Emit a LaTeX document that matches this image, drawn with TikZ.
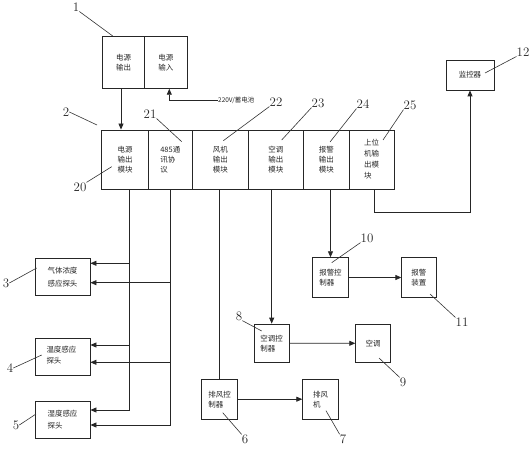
\documentclass[tikz,border=0pt]{standalone}
\usepackage{fontspec}
\newfontfamily\cjk{Noto Sans CJK SC}
\usetikzlibrary{arrows.meta}
\begin{document}
\begin{tikzpicture}[x=1bp,y=-1bp,
  box/.style={draw=black!85, line width=0.8bp, inner sep=0pt, align=left, text=black!85,
    font=\cjk\fontsize{7.5}{10}\selectfont},
  sbox/.style={box, font=\cjk\fontsize{7.5}{13}\selectfont},
  arr/.style={draw=black!85, line width=0.8bp, -{Triangle[length=6bp,width=5bp]}},
  ln/.style={draw=black!85, line width=0.8bp},
  lead/.style={draw=black!80, line width=0.6bp},
  num/.style={font=\fontsize{13}{13}\selectfont, inner sep=0pt, text=black!85}]
\useasboundingbox (0,0) rectangle (530,450);
% top power box
\node[box, minimum width=41.6bp, minimum height=52.3bp] (topL) at (123.5,62.2) {电源\\输出};
\node[box, minimum width=43bp, minimum height=52.3bp] (topR) at (165.8,62.2) {电源\\输入};
\node[anchor=west, inner sep=0pt, text=black!85, font=\cjk\fontsize{6.5}{8}\selectfont] (p220) at (218,100) {220V/蓄电池};
% module row
\node[box, minimum width=46.6bp, minimum height=59bp] (m1) at (125,159.5) {电源\\输出\\模块};
\node[box, minimum width=44bp, minimum height=59bp] (m2) at (170.3,159.5) {485通\\讯协\\议};
\node[box, minimum width=56bp, minimum height=59bp] (m3) at (220.3,159.5) {风机\\输出\\模块};
\node[box, minimum width=55bp, minimum height=59bp] (m4) at (275.8,159.5) {空调\\输出\\模块};
\node[box, minimum width=46bp, minimum height=59bp] (m5) at (326.3,159.5) {报警\\输出\\模块};
\node[box, minimum width=44.7bp, minimum height=59bp, font=\cjk\fontsize{7.5}{11}\selectfont] (m6) at (371.7,159.5) {上位\\机输\\出模\\块};
% monitor
\node[box, minimum width=48bp, minimum height=30bp] (mon) at (470,75) {监控器};
% sensors
\node[sbox, minimum width=55bp, minimum height=36.7bp] (s3) at (62.5,276.7) {气体浓度\\感应探头};
\node[sbox, minimum width=55bp, minimum height=36.7bp, font=\cjk\fontsize{7.5}{11}\selectfont] (s4) at (62.5,356.7) {\raisebox{3bp}{\parbox[b]{32bp}{温度感应\\探头}}};
\node[sbox, minimum width=55bp, minimum height=36.6bp, font=\cjk\fontsize{7.5}{12}\selectfont] (s5) at (62.5,420) {湿度感应\\探头};
% controllers
\node[box, minimum width=35.6bp, minimum height=39.6bp] (bc) at (330.5,277.5) {报警控\\制器};
\node[box, minimum width=34.3bp, minimum height=39.6bp] (bz) at (418.9,277.5) {报警\\装置};
\node[box, minimum width=35.3bp, minimum height=38.3bp] (kc) at (271.7,343.2) {空调控\\制器};
\node[box, minimum width=35bp, minimum height=38bp] (kt) at (373.2,343.3) {空调};
\node[box, minimum width=36bp, minimum height=39.7bp] (pc) at (219.7,399.2) {排风控\\制器};
\node[box, minimum width=35.6bp, minimum height=39.7bp] (pj) at (320.5,399.2) {排风\\机};
% connectors
\draw[arr] ([xshift=-2.5bp]topL.south) -- ([xshift=-2.5bp]topL.south |- m1.north);
\draw[arr] (p220.west) -| ([xshift=3.5bp]topR.south);
\coordinate (t1) at ([xshift=4bp]m1.south);
\coordinate (t2) at (m2.south);
\coordinate (a3) at ([yshift=13.4bp]s3.east);
\coordinate (b3) at ([yshift=-6bp]s3.east);
\coordinate (a4) at ([yshift=11.7bp]s4.east);
\coordinate (b4) at ([yshift=-5.6bp]s4.east);
\coordinate (a5) at ([yshift=10bp]s5.east);
\coordinate (b5) at ([yshift=-5bp]s5.east);
\draw[arr] (t1) |- (a5);
\draw[arr] (t1 |- a3) -- (a3);
\draw[arr] (t1 |- a4) -- (a4);
\draw[arr] (t2) |- (b5);
\draw[arr] (t2 |- b3) -- (b3);
\draw[arr] (t2 |- b4) -- (b4);
\draw[ln] (pc.north |- m3.south) -- (pc.north);
\draw[arr] (kc.north |- m4.south) -- (kc.north);
\draw[arr] (bc.north |- m5.south) -- (bc.north);
\coordinate (c6) at ([xshift=2.3bp]m6.south);
\draw[arr] (c6) -- ++(0,22.7) -| (mon.south);
\draw[arr] (bc.east) -- (bz.west);
\draw[arr] (kc.east) -- (kt.west);
\draw[arr] (pc.east) -- (pj.west);
% labels
\node[num] (l1) at (76,7) {1};
\draw[lead] (l1.south east) -- (112.7,36) coordinate (e1);
\node[num] (l2) at (66,112) {2};
\draw[lead] (l2.east) -- (97,125) coordinate (e2);
\node[num] (l20) at (80,187) {20};
\draw[lead] (l20.north east) -- (111.7,166.7) coordinate (e20);
\node[num] (l21) at (150,114) {21};
\draw[lead] (l21.south east) -- (181.7,141.7) coordinate (e21);
\node[num] (l22) at (276,102) {22};
\draw[lead] (l22.south west) -- (223.3,140.7) coordinate (e22);
\node[num] (l23) at (318,103) {23};
\draw[lead] (l23.south west) -- (281.7,140) coordinate (e23);
\node[num] (l24) at (363,104) {24};
\draw[lead] (l24.south west) -- (330,142) coordinate (e24);
\node[num] (l25) at (410,105) {25};
\draw[lead] (l25.south west) -- (383,140) coordinate (e25);
\node[num] (l12) at (523,52) {12};
\draw[lead] (l12.south west) -- (485,73) coordinate (e12);
\node[num] (l10) at (367,238) {10};
\draw[lead] (l10.south west) -- (331.7,262.7) coordinate (e10);
\node[num] (l11) at (462,322) {11};
\draw[lead] (l11.north west) -- (430,294) coordinate (e11);
\node[num] (l8) at (239,316) {8};
\draw[lead] (l8.south east) -- (261.7,331) coordinate (e8);
\node[num] (l9) at (403,382) {9};
\draw[lead] (l9.north west) -- (379,358) coordinate (e9);
\node[num] (l6) at (245,439) {6};
\draw[lead] (l6.north west) -- (222.7,412.7) coordinate (e6);
\node[num] (l7) at (343,439) {7};
\draw[lead] (l7.north west) -- (326,410.7) coordinate (e7);
\node[num] (l3) at (6,283) {3};
\draw[lead] (l3.east) -- (36.7,268) coordinate (e3);
\node[num] (l4) at (10,368) {4};
\draw[lead] (l4.east) -- (41.7,355) coordinate (e4);
\node[num] (l5) at (16,425) {5};
\draw[lead] (l5.east) -- (36,414) coordinate (e5);
\end{tikzpicture}
\end{document}
